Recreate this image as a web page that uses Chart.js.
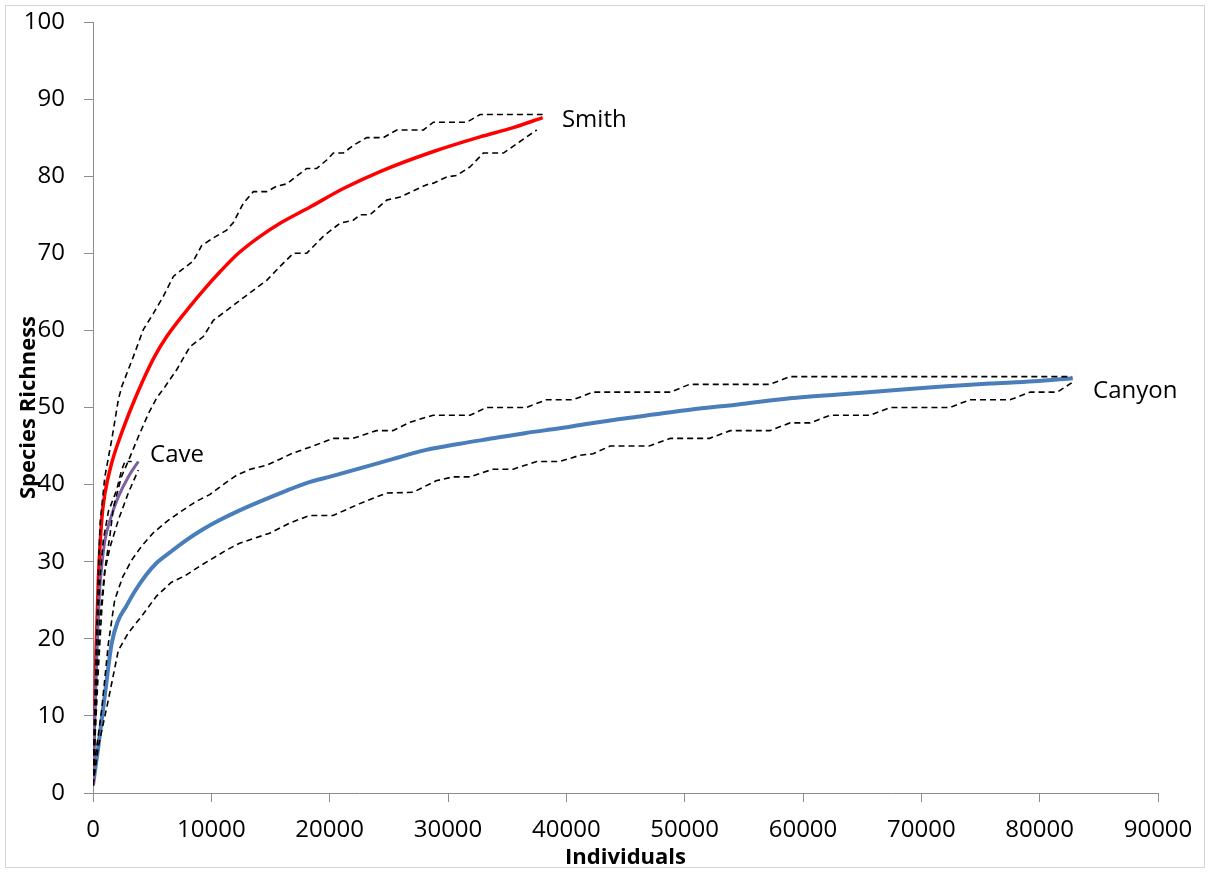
<!DOCTYPE html>
<html>
<head>
<meta charset="utf-8">
<title>Species accumulation curves</title>
<script src="https://cdn.jsdelivr.net/npm/chart.js@4/dist/chart.umd.min.js"></script>
<style>
  html, body { margin: 0; padding: 0; background: #ffffff; }
  #wrap { width: 1210px; height: 873px; }
</style>
</head>
<body>
<div id="wrap"><canvas id="chart" width="1210" height="873"></canvas></div>
<script>
// Axis ticks
const xTicks = [0, 10000, 20000, 30000, 40000, 50000, 60000, 70000, 80000, 90000];
const yTicks = [0, 10, 20, 30, 40, 50, 60, 70, 80, 90, 100];

// Smith: rarefied richness and 95% bounds
const smithX = [0, 100, 250, 450, 735, 1015, 1580, 2420, 3270, 4250, 5200, 6230, 7920, 9325, 10735, 12285, 14120, 15810, 18345, 21160, 24260, 28770, 32710, 35500, 38000];
const smithY = [1, 8, 18, 27.6, 35.4, 38.9, 42.8, 46.7, 50.1, 53.6, 56.6, 59.2, 62.6, 65.2, 67.6, 70.0, 72.2, 73.9, 76.0, 78.4, 80.6, 83.2, 85.1, 86.3, 87.6];
const smithUpX = [0, 150, 300, 450, 600, 1000, 1580, 2140, 2425, 3410, 4250, 5100, 5940, 6790, 7630, 8480, 9185, 10170, 11300, 11860, 12710, 13550, 14680, 15520, 16370, 17210, 18060, 18900, 19750, 20310, 21150, 22000, 23130, 24540, 25670, 27925, 28770, 31590, 32710, 38000];
const smithUpY = [1, 10, 20, 28.5, 35, 41, 45.8, 51, 52.7, 56.6, 60.1, 62.2, 64.4, 67, 68, 69, 71, 72, 73, 74, 76.5, 78, 78, 78.7, 79, 80, 81, 81, 82.1, 83, 83, 84, 85, 85, 86, 86, 87, 87, 88, 88];
const smithLoX = [0, 150, 350, 600, 1000, 1440, 1720, 2400, 3130, 3830, 4680, 5400, 6085, 7070, 8200, 9325, 10170, 11300, 12425, 13550, 14680, 15810, 16930, 18060, 19460, 20870, 22000, 22560, 23410, 24820, 25950, 27075, 28200, 28770, 29890, 30740, 31860, 32990, 34680, 36090, 37500];
const smithLoY = [1, 8, 16, 23, 29, 33.5, 37, 41, 43.6, 46.2, 49.2, 51.3, 52.7, 54.9, 57.9, 59.2, 61.3, 62.6, 63.9, 65.2, 66.5, 68.3, 70, 70, 72.2, 73.9, 74.3, 75, 75, 76.9, 77.3, 78.1, 78.9, 79.1, 79.9, 80.1, 81.2, 83, 83, 84.5, 86];

// Cave: rarefied richness and 95% bounds
const caveX = [0, 150, 350, 550, 735, 1015, 1440, 2140, 2980, 3830];
const caveY = [1, 10, 19, 26, 29.4, 32.8, 35.4, 38.4, 41, 43];
const caveUpX = [0, 150, 350, 600, 870, 1300, 2000, 2420, 2700, 3270];
const caveUpY = [1, 11, 21, 28, 32.8, 36.5, 39.3, 41.9, 43, 43];
const caveLoX = [0, 200, 450, 750, 1015, 1440, 2140, 2980, 3830];
const caveLoY = [1, 8, 16, 24, 28.9, 31.9, 35.4, 38.9, 41.9];

// Canyon: rarefied richness and 95% bounds
const canyonX = [0, 450, 1015, 1580, 2110, 2800, 3550, 4500, 5350, 6500, 7890, 9300, 10710, 12300, 14090, 16000, 18030, 20200, 22540, 25300, 28170, 31000, 33800, 36600, 39450, 42260, 46000, 50450, 54500, 58900, 63000, 67350, 71500, 75800, 79500, 82800];
const canyonY = [1, 6, 12.9, 19.4, 22.3, 24.2, 26.2, 28.3, 29.8, 31.2, 32.8, 34.2, 35.4, 36.6, 37.8, 39.0, 40.2, 41.1, 42.1, 43.3, 44.5, 45.3, 46.0, 46.7, 47.3, 48.0, 48.8, 49.7, 50.4, 51.2, 51.7, 52.2, 52.7, 53.1, 53.4, 53.8];
const canyonUpX = [0, 170, 735, 1300, 1830, 2500, 3270, 4100, 5070, 6300, 7610, 8700, 9860, 11000, 12120, 13300, 14650, 15800, 16910, 18600, 20290, 21980, 23950, 25350, 26800, 28740, 31870, 33240, 36620, 38310, 40560, 42260, 48800, 50400, 57200, 58900, 82700];
const canyonUpY = [1, 4.3, 10.8, 19.4, 25, 28, 30.2, 32, 33.7, 35.3, 36.7, 37.8, 38.7, 40, 41.2, 42, 42.5, 43.3, 44.1, 45, 46, 46, 47, 47, 48.1, 49, 49, 50, 50, 51, 51, 52, 52, 53, 53, 54, 54];
const canyonLoX = [0, 450, 1300, 2140, 3000, 4090, 5350, 6600, 7800, 9000, 11270, 12390, 14930, 16600, 18310, 20290, 22500, 24790, 27040, 29000, 30430, 31840, 33800, 35500, 37500, 39450, 41150, 42260, 43700, 47000, 48800, 52100, 53850, 57200, 58900, 60600, 62300, 65700, 67350, 72400, 74100, 77500, 79200, 81500, 82700];
const canyonLoY = [1, 6, 12.1, 18.5, 20.8, 22.9, 25.5, 27.3, 28.2, 29.4, 31.5, 32.4, 33.7, 35, 36, 36, 37.5, 38.9, 39, 40.5, 41, 41, 42, 42, 43, 43, 43.8, 44, 45, 45, 46, 46, 47, 47, 48, 48, 49, 49, 50, 50, 51, 51, 52, 52, 53.2];

// Series names drawn next to the curve ends: [text, x, y]
const seriesLabels = [
  ['Smith', 39630, 87.3],
  ['Canyon', 84510, 52.1],
  ['Cave', 4820, 43.8]
];

const FONT = "'Open Sans', 'Liberation Sans', sans-serif";
const AXIS_GREY = '#8c8c8c';

function pts(xs, ys) {
  return xs.map((x, i) => ({ x: x, y: ys[i] }));
}

function meanLine(label, xs, ys, color, width, order) {
  return {
    label: label,
    data: pts(xs, ys),
    borderColor: color,
    borderWidth: width,
    pointRadius: 0,
    fill: false,
    cubicInterpolationMode: 'monotone',
    order: order
  };
}

function boundLine(label, xs, ys) {
  return {
    label: label,
    data: pts(xs, ys),
    borderColor: '#000000',
    borderWidth: 1.6,
    borderDash: [6, 4],
    pointRadius: 0,
    fill: false,
    tension: 0,
    order: 0
  };
}

// White page with a thin grey frame
const framePlugin = {
  id: 'frame',
  beforeDraw(chart) {
    const ctx = chart.ctx;
    ctx.save();
    ctx.fillStyle = '#ffffff';
    ctx.fillRect(0, 0, chart.width, chart.height);
    ctx.strokeStyle = '#d4d4d4';
    ctx.lineWidth = 1;
    ctx.strokeRect(5.5, 5.5, chart.width - 11, chart.height - 11);
    ctx.restore();
  }
};

// Series names placed in data coordinates
const seriesLabelPlugin = {
  id: 'seriesLabels',
  afterDatasetsDraw(chart) {
    const ctx = chart.ctx;
    const xs = chart.scales.x, ys = chart.scales.y;
    ctx.save();
    ctx.font = '24px ' + FONT;
    ctx.fillStyle = '#000000';
    ctx.textAlign = 'left';
    ctx.textBaseline = 'middle';
    seriesLabels.forEach(([text, x, y]) => {
      ctx.fillText(text, xs.getPixelForValue(x), ys.getPixelForValue(y));
    });
    ctx.restore();
  }
};

new Chart(document.getElementById('chart'), {
  type: 'line',
  data: {
    datasets: [
      boundLine('Smith upper', smithUpX, smithUpY),
      boundLine('Smith lower', smithLoX, smithLoY),
      boundLine('Cave upper', caveUpX, caveUpY),
      boundLine('Cave lower', caveLoX, caveLoY),
      boundLine('Canyon upper', canyonUpX, canyonUpY),
      boundLine('Canyon lower', canyonLoX, canyonLoY),
      meanLine('Cave', caveX, caveY, '#7d60a0', 3, 1),
      meanLine('Smith', smithX, smithY, '#ff0000', 3.5, 2),
      meanLine('Canyon', canyonX, canyonY, '#4a7ebb', 4, 3)
    ]
  },
  options: {
    responsive: false,
    animation: false,
    devicePixelRatio: 1,
    layout: { padding: { left: 0, right: 52, top: 22, bottom: 0 } },
    plugins: {
      legend: { display: false },
      tooltip: { enabled: false }
    },
    scales: {
      x: {
        type: 'linear',
        min: 0,
        max: 90000,
        afterFit(scale) {
          scale.height = 80;
          scale.paddingLeft = 0;
          scale.paddingRight = 0;
        },
        afterBuildTicks(scale) { scale.ticks = xTicks.map(v => ({ value: v })); },
        ticks: {
          callback: v => String(v),
          font: { family: FONT, size: 24 },
          color: '#000000',
          padding: 14,
          maxRotation: 0,
          autoSkip: false
        },
        grid: {
          drawOnChartArea: false,
          drawTicks: true,
          tickLength: 9,
          color: AXIS_GREY
        },
        border: { color: AXIS_GREY, width: 1 },
        title: {
          display: true,
          text: 'Individuals',
          font: { family: FONT, size: 22, weight: 'bold' },
          color: '#000000',
          padding: { top: 0, bottom: 2 }
        }
      },
      y: {
        type: 'linear',
        min: 0,
        max: 100,
        afterFit(scale) {
          scale.width = 93;
          scale.paddingTop = 0;
          scale.paddingBottom = 0;
        },
        afterBuildTicks(scale) { scale.ticks = yTicks.map(v => ({ value: v })); },
        ticks: {
          font: { family: FONT, size: 24 },
          color: '#000000',
          padding: 19,
          autoSkip: false
        },
        grid: {
          drawOnChartArea: false,
          drawTicks: true,
          tickLength: 9,
          color: AXIS_GREY
        },
        border: { color: AXIS_GREY, width: 1 },
        title: {
          display: true,
          text: 'Species Richness',
          font: { family: FONT, size: 22, weight: 'bold' },
          color: '#000000',
          padding: { top: 16, bottom: 0 }
        }
      }
    }
  },
  plugins: [framePlugin, seriesLabelPlugin]
});
</script>
</body>
</html>
